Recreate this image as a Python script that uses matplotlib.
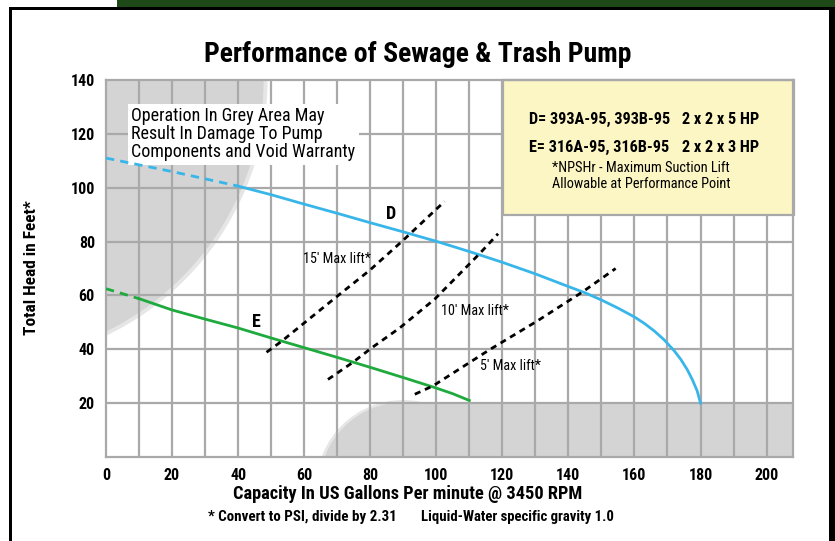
import matplotlib
matplotlib.use('Agg')
import matplotlib.pyplot as plt
import matplotlib.patches as patches
import numpy as np

plt.rcParams['font.family'] = ['Roboto Condensed', 'DejaVu Sans']

#%% Data

# pump D (5 HP), head in feet vs capacity in US gpm
d_gpm  = [0, 10, 20, 30, 40, 50, 60, 70, 80, 90, 100, 110, 120, 130, 140, 145, 150, 155, 160, 163, 166,
          169, 172, 174, 176, 177.5, 179, 180]
d_head = [111, 108.5, 106, 103.3, 100.6, 97.4, 93.9, 90.5, 87, 83.6, 80.1, 76.3, 72.3, 68, 63.3, 61, 58.3,
          55.3, 52, 49.6, 46.8, 43.5, 39.5, 36.3, 32.4, 28.8, 24.5, 20]
d_dash_end = 40

# pump E (3 HP)
e_gpm  = [0, 10, 20, 30, 40, 50, 60, 70, 80, 90, 100, 105, 110]
e_head = [62.5, 58.8, 54.6, 51.2, 47.9, 44.2, 40.6, 37, 33.3, 29.5, 25.6, 23.5, 21]
e_dash_end = 10

# NPSHr max suction lift lines
lift15_gpm  = [48.6, 53.1, 69.8, 79.9, 89.9, 102.5]
lift15_head = [38.9, 42.9, 59.5, 69.4, 80.4, 94.9]
lift10_gpm  = [67.2, 74.8, 80.4, 88.9, 99.5, 113.1, 118.7]
lift10_head = [28.8, 35.2, 40.5, 47.9, 58.6, 75.5, 82.9]
lift5_gpm   = [93.5, 99, 116.2, 130.3, 144.4, 154.3]
lift5_head  = [23.3, 26.4, 39.9, 50.3, 61.4, 70]

x_ticks = [0, 20, 40, 60, 80, 100, 120, 140, 160, 180, 200]
y_ticks = [20, 40, 60, 80, 100, 120, 140]

#%% Figure

fig = plt.figure(figsize=(8.35, 5.41), dpi=100)
ax = fig.add_axes([106/835., 1-457/541., 687/835., 377/541.])
ax.set_xlim(0, 208)
ax.set_ylim(0, 140)

grid_c = '#a9a9a9'
grey_c = '#d4d4d4'
fringe_c = '#e6e6e6'

# grey "danger" areas
ax.add_patch(patches.Ellipse((-37.8, 140), 2*86.5, 2*105.3, color=fringe_c, zorder=0))
ax.add_patch(patches.Ellipse((-37.8, 140), 2*85.3, 2*103.9, color=grey_c, zorder=0.1))
ax.add_patch(patches.Ellipse((90, -10.6), 2*26, 2*31.5, color=fringe_c, zorder=0))
ax.add_patch(patches.Ellipse((90, -10.6), 2*25.1, 2*30.6, color=grey_c, zorder=0.1))
ax.add_patch(patches.Rectangle((90, 0), 118, 19.6, color=grey_c, zorder=0.1))

# grid
for xv in range(10, 201, 10):
    ax.axvline(xv, color=grid_c, lw=1.6, zorder=1)
for yv in y_ticks[:-1]:
    ax.axhline(yv, color=grid_c, lw=1.6, zorder=1)
for s in ax.spines.values():
    s.set_color(grid_c)
    s.set_linewidth(1.6)

ax.set_xticks(x_ticks)
ax.set_yticks(y_ticks)
ax.tick_params(length=0, pad=8, labelsize=11.5)
for lab in ax.get_xticklabels() + ax.get_yticklabels():
    lab.set_fontweight('bold')

# yellow legend box
ax.add_patch(patches.Rectangle((120.2, 90), 88, 50, facecolor='#fcf6c4', edgecolor=grid_c,
                               lw=1.6, zorder=2, clip_on=False))
ax.text(128, 125.5, 'D= 393A-95, 393B-95', fontsize=11.7, fontweight='bold', va='center', zorder=3)
ax.text(174.5, 125.5, '2 x 2 x 5 HP', fontsize=11.7, fontweight='bold', va='center', zorder=3)
ax.text(128, 114.8, 'E= 316A-95, 316B-95', fontsize=11.7, fontweight='bold', va='center', zorder=3)
ax.text(174.5, 114.8, '2 x 2 x 3 HP', fontsize=11.7, fontweight='bold', va='center', zorder=3)
ax.text(135, 107.5, '*NPSHr - Maximum Suction Lift', fontsize=10.4, va='center', zorder=3)
ax.text(135, 101.2, 'Allowable at Performance Point', fontsize=10.4, va='center', zorder=3)

# warning text
ax.text(7.7, 129.8, 'Operation In Grey Area May\nResult In Damage To Pump\nComponents and Void Warranty',
        fontsize=13, va='top', ha='left', linespacing=1.0, zorder=3,
        bbox=dict(boxstyle='square,pad=0.2', fc='white', ec='none'))

# pump curves
d_gpm = np.array(d_gpm); d_head = np.array(d_head)
e_gpm = np.array(e_gpm); e_head = np.array(e_head)
blue = '#38b6ea'
green = '#1eaa3c'
m = d_gpm <= d_dash_end
ax.plot(d_gpm[m], d_head[m], color=blue, lw=2, ls=(0, (3, 2.2)), zorder=4)
ax.plot(d_gpm[d_gpm >= d_dash_end], d_head[d_gpm >= d_dash_end], color=blue, lw=2, zorder=4,
        solid_joinstyle='round')
m = e_gpm <= e_dash_end
ax.plot(e_gpm[m], e_head[m], color=green, lw=2, ls=(0, (3, 2.2)), zorder=4)
ax.plot(e_gpm[e_gpm >= e_dash_end], e_head[e_gpm >= e_dash_end], color=green, lw=2, zorder=4,
        solid_joinstyle='round')

# max lift lines
for xs, ys in [(lift15_gpm, lift15_head), (lift10_gpm, lift10_head), (lift5_gpm, lift5_head)]:
    ax.plot(xs, ys, color='black', lw=2, ls=(0, (2.2, 1.8)), zorder=5)

ax.text(59.7, 73.4, "15' Max lift*", fontsize=10.2, va='center', zorder=6)
ax.text(101.5, 54.3, "10' Max lift*", fontsize=10.2, va='center', zorder=6)
ax.text(113.1, 33.7, "5' Max lift*", fontsize=10.2, va='center', zorder=6)
ax.text(86.4, 90.2, 'D', fontsize=13, fontweight='bold', ha='center', va='center', zorder=6)
ax.text(45.6, 50.3, 'E', fontsize=13, fontweight='bold', ha='center', va='center', zorder=6)

# titles
fig.text(418/835., 1-55/541., 'Performance of Sewage & Trash Pump', fontsize=20, fontweight='bold',
         ha='center', va='center')
fig.text(408/835., 1-494/541., 'Capacity In US Gallons Per minute @ 3450 RPM', fontsize=13.2,
         fontweight='bold', ha='center', va='center')
fig.text(32/835., 1-268/541., 'Total Head in Feet*', fontsize=12.5, fontweight='bold',
         ha='center', va='center', rotation=90)
fig.text(208/835., 1-517/541., '* Convert to PSI, divide by 2.31', fontsize=10.8, fontweight='bold',
         ha='left', va='center')
fig.text(421/835., 1-517/541., 'Liquid-Water specific gravity 1.0', fontsize=10.6, fontweight='bold',
         ha='left', va='center')

# page frame
fig.add_artist(patches.Rectangle((117/835., 1-7/541.), 1, 7/541., transform=fig.transFigure,
                                 color='#1d4a16', lw=0))
fig.add_artist(patches.Rectangle((9/835., 1-10/541.), 826/835., 3/541., transform=fig.transFigure,
                                 color='black', lw=0))
fig.add_artist(patches.Rectangle((9/835., 0), 3/835., 1-7/541., transform=fig.transFigure,
                                 color='black', lw=0))
fig.add_artist(patches.Rectangle((829/835., 0), 6/835., 1-7/541., transform=fig.transFigure,
                                 color='black', lw=0))

fig.savefig('out.png', dpi=100)
